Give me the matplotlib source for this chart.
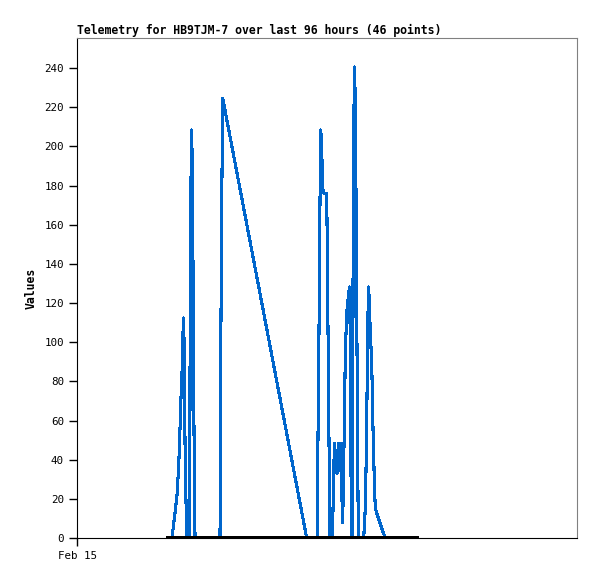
import matplotlib
matplotlib.use("Agg")
import matplotlib.pyplot as plt

# Telemetri-kurva (timmar från Feb 15 00:00, värde)
timmar = [18.24, 18.49, 18.82, 19.26, 19.58, 19.78, 19.97, 20.22, 20.35, 20.49,
          20.60, 20.79, 20.93, 21.06, 21.64, 21.68, 21.75, 22.02, 22.21, 22.33,
          22.52, 22.66, 27.46, 27.51, 27.78, 27.97, 44.10, 46.14, 46.21, 46.46,
          46.66, 46.79, 46.98, 47.10, 47.29, 47.94, 48.06, 48.25, 48.45, 48.58,
          49.06, 49.29, 49.48, 49.67, 49.92, 50.17, 50.40, 50.63, 50.82, 51.01,
          51.32, 51.51, 51.78, 52.16, 52.36, 52.47, 52.61, 52.80, 52.93, 53.05,
          53.32, 53.51, 53.70, 53.90, 54.01, 55.05, 55.30, 55.49, 55.68, 55.82,
          56.01, 56.20, 56.39, 56.64, 56.83, 57.08, 57.27, 57.66, 58.18, 58.81,
          59.27]
varden = [0, 5.6, 12.8, 23.5, 40.9, 56.2, 72.0, 88.4, 104.7, 112.4,
          88.4, 34.7, 18.4, 0, 0, 51.6, 156.3, 208.4, 173.6, 103.7,
          34.7, 0, 0, 56.2, 168.5, 224.7, 0, 0, 34.7, 104.7,
          173.6, 208.4, 202.2, 181.8, 176.2, 176.2, 147.1, 88.4, 29.6, 0,
          0, 36.3, 48.5, 36.3, 33.2, 48.5, 34.7, 48.5, 24.5, 7.7,
          56.2, 93.5, 114.9, 125.1, 128.2, 96.0, 32.2, 0, 39.8, 199.7,
          240.6, 199.7, 120.5, 40.9, 0, 0, 12.8, 34.7, 72.0, 109.8,
          128.2, 112.9, 102.1, 82.2, 56.2, 29.6, 15.3, 11.7, 7.7, 2.6,
          0]

# Andra kanalen, bara nollor
noll_timmar = [17.09, 65.41]
noll_varden = [0, 0]

y_ticks = list(range(0, 241, 20))
x_ticks = [0]
x_labels = ["Feb 15"]

fig = plt.figure(figsize=(5.97, 5.79), dpi=100)
ax = fig.add_axes([77/597, 41/579, 500/597, 500/579])

ax.plot(timmar, varden, color="#0066CC", linewidth=1.5, antialiased=False, zorder=2)
ax.plot(noll_timmar, noll_varden, color="black", linewidth=2.2, antialiased=False,
        solid_capstyle="butt", zorder=3)

ax.set_xlim(0, 96)
ax.set_ylim(0, 255.4)
ax.set_yticks(y_ticks)
ax.set_xticks(x_ticks)
ax.set_xticklabels(x_labels)

ax.spines["top"].set_color("#808080")
ax.spines["right"].set_color("#808080")
ax.tick_params(direction="out", length=6, width=1, labelsize=7.8)
for lab in ax.get_xticklabels() + ax.get_yticklabels():
    lab.set_family("DejaVu Sans Mono")

ax.set_ylabel("Values", family="DejaVu Sans Mono", fontweight="bold", fontsize=8.3, labelpad=5)
ax.set_title("Telemetry for HB9TJM-7 over last 96 hours (46 points)", loc="left",
             family="DejaVu Sans Mono", fontweight="bold", fontsize=8.3, pad=3)

fig.savefig("out.png", dpi=100)
